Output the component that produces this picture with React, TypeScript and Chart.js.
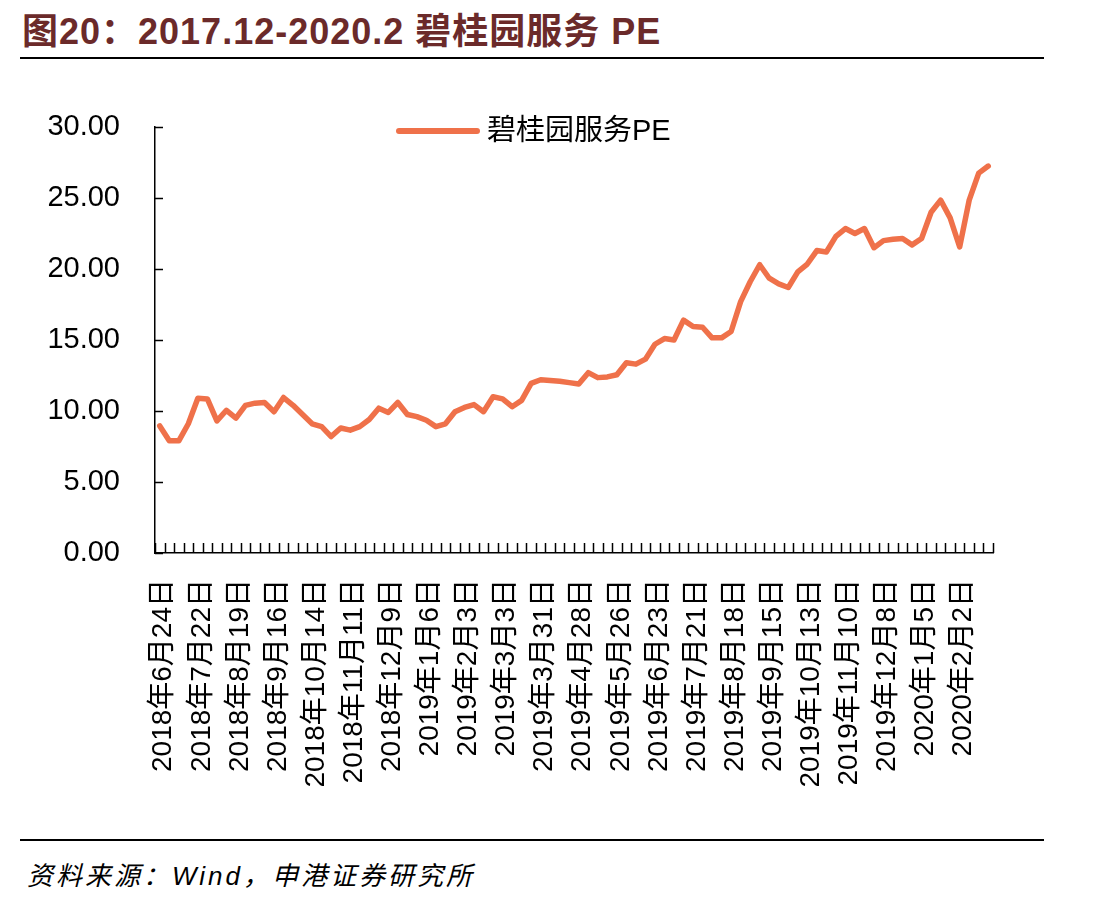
import React, { useEffect, useRef } from "react";
import { Chart, registerables } from "chart.js";

Chart.register(...registerables);

const TITLE = "图20：2017.12-2020.2 碧桂园服务 PE";
const SOURCE = "资料来源：Wind，申港证券研究所";
const SERIES_NAME = "碧桂园服务PE";

const dates: string[] = [
  "2018年6月24日", "2018年7月1日", "2018年7月8日", "2018年7月15日", "2018年7月22日", "2018年7月29日",
  "2018年8月5日", "2018年8月12日", "2018年8月19日", "2018年8月26日", "2018年9月2日", "2018年9月9日",
  "2018年9月16日", "2018年9月23日", "2018年9月30日", "2018年10月7日", "2018年10月14日", "2018年10月21日",
  "2018年10月28日", "2018年11月4日", "2018年11月11日", "2018年11月18日", "2018年11月25日", "2018年12月2日",
  "2018年12月9日", "2018年12月16日", "2018年12月23日", "2018年12月30日",
  "2019年1月6日", "2019年1月13日", "2019年1月20日", "2019年1月27日", "2019年2月3日", "2019年2月10日",
  "2019年2月17日", "2019年2月24日", "2019年3月3日", "2019年3月10日", "2019年3月17日", "2019年3月24日",
  "2019年3月31日", "2019年4月7日", "2019年4月14日", "2019年4月21日", "2019年4月28日", "2019年5月5日",
  "2019年5月12日", "2019年5月19日", "2019年5月26日", "2019年6月2日", "2019年6月9日", "2019年6月16日",
  "2019年6月23日", "2019年6月30日", "2019年7月7日", "2019年7月14日", "2019年7月21日", "2019年7月28日",
  "2019年8月4日", "2019年8月11日", "2019年8月18日", "2019年8月25日", "2019年9月1日", "2019年9月8日",
  "2019年9月15日", "2019年9月22日", "2019年9月29日", "2019年10月6日", "2019年10月13日", "2019年10月20日",
  "2019年10月27日", "2019年11月3日", "2019年11月10日", "2019年11月17日", "2019年11月24日", "2019年12月1日",
  "2019年12月8日", "2019年12月15日", "2019年12月22日", "2019年12月29日",
  "2020年1月5日", "2020年1月12日", "2020年1月19日", "2020年1月26日", "2020年2月2日", "2020年2月9日",
  "2020年2月16日", "2020年2月23日",
];

const peValues: number[] = [
  8.95, 7.9, 7.9, 9.1, 10.9, 10.85, 9.3, 10.05, 9.5, 10.4,
  10.55, 10.6, 9.95, 10.95, 10.4, 9.75, 9.1, 8.9, 8.2, 8.8,
  8.65, 8.9, 9.4, 10.2, 9.9, 10.6, 9.75, 9.6, 9.35, 8.9,
  9.1, 9.95, 10.25, 10.45, 9.95, 11.0, 10.85, 10.3, 10.75, 11.95,
  12.2, 12.15, 12.1, 12.0, 11.9, 12.7, 12.35, 12.4, 12.55, 13.4,
  13.3, 13.65, 14.7, 15.1, 15.0, 16.4, 15.95, 15.9, 15.15, 15.15,
  15.6, 17.7, 19.1, 20.3, 19.35, 18.95, 18.7, 19.8, 20.35, 21.3,
  21.2, 22.3, 22.85, 22.5, 22.85, 21.5, 22.0, 22.1, 22.15, 21.7,
  22.15, 24.0, 24.85, 23.6, 21.55, 24.85, 26.75, 27.25,
];

const yTickValues: number[] = [0, 5, 10, 15, 20, 25, 30];
const LABEL_EVERY = 4;

const LINE_COLOR = "#EF714A";
const FONT = '"Liberation Sans", Arial, "Noto Sans CJK SC", sans-serif';

const inwardTicks = {
  id: "inwardTicks",
  afterDraw(chart: any) {
    const { ctx, chartArea, scales } = chart;
    const xs = scales.x;
    const ys = scales.y;
    ctx.save();
    ctx.strokeStyle = "#000";
    ctx.lineWidth = 1.5;
    ctx.beginPath();
    yTickValues.forEach((v) => {
      const py = Math.round(ys.getPixelForValue(v)) + 0.5;
      ctx.moveTo(chartArea.left, py);
      ctx.lineTo(chartArea.left + 8, py);
    });
    const n = dates.length;
    const p0 = xs.getPixelForValue(0);
    const step = xs.getPixelForValue(1) - p0;
    for (let i = 0; i <= n; i++) {
      const px = Math.round(p0 - step / 2 + i * step) + 0.5;
      ctx.moveTo(px, chartArea.bottom);
      ctx.lineTo(px, chartArea.bottom - 10);
    }
    ctx.stroke();

    // legend
    const lx0 = chartArea.left + 244;
    const lx1 = chartArea.left + 322;
    const ly = chartArea.top + 4;
    ctx.strokeStyle = LINE_COLOR;
    ctx.lineWidth = 6;
    ctx.lineCap = "round";
    ctx.beginPath();
    ctx.moveTo(lx0, ly);
    ctx.lineTo(lx1, ly);
    ctx.stroke();
    ctx.fillStyle = "#000";
    ctx.font = `29px ${FONT}`;
    ctx.textAlign = "left";
    ctx.textBaseline = "middle";
    ctx.fillText(SERIES_NAME, lx1 + 10, ly + 1);
    ctx.restore();
  },
};

export default function App() {
  const canvasRef = useRef<HTMLCanvasElement | null>(null);

  useEffect(() => {
    if (!canvasRef.current) return;
    const chart = new Chart(canvasRef.current, {
      type: "line",
      data: {
        labels: dates,
        datasets: [
          {
            label: SERIES_NAME,
            data: peValues,
            borderColor: LINE_COLOR,
            backgroundColor: LINE_COLOR,
            borderWidth: 5.5,
            pointRadius: 0,
            tension: 0,
            borderJoinStyle: "round",
            borderCapStyle: "round",
          },
        ],
      },
      options: {
        responsive: false,
        animation: false,
        devicePixelRatio: 1,
        layout: { padding: { left: 0, top: 67, right: 100, bottom: 0 } },
        plugins: {
          legend: { display: false },
          tooltip: { enabled: false },
        },
        scales: {
          x: {
            type: "category",
            offset: true,
            grid: { display: false, offset: true },
            border: { display: true, color: "#000", width: 1.5 },
            ticks: {
              autoSkip: false,
              maxRotation: 90,
              minRotation: 90,
              padding: 18,
              labelOffset: 4,
              color: "#000",
              font: { family: FONT, size: 28 },
              callback: (_v: any, i: number) => (i % LABEL_EVERY === 0 ? dates[i] : ""),
            },
            afterFit: (scale: any) => {
              scale.height = 282;
            },
          },
          y: {
            min: 0,
            max: 30,
            grid: { display: false },
            border: { display: true, color: "#000", width: 1.5 },
            afterBuildTicks: (scale: any) => {
              scale.ticks = yTickValues.map((v) => ({ value: v }));
            },
            ticks: {
              padding: 27,
              color: "#000",
              font: { family: FONT, size: 29 },
              callback: (v: any) => Number(v).toFixed(2),
            },
            afterFit: (scale: any) => {
              scale.width = 155;
            },
          },
        },
      },
      plugins: [inwardTicks],
    });
    return () => chart.destroy();
  }, []);

  return (
    <div
      style={{
        position: "absolute",
        left: 0,
        top: 0,
        width: 1093,
        height: 904,
        background: "#fff",
        fontFamily: FONT,
      }}
    >
      <div
        style={{
          position: "absolute",
          left: 22,
          top: 2,
          fontSize: 36,
          letterSpacing: 1,
          fontWeight: "bold",
          color: "#6B2A2A",
          whiteSpace: "nowrap",
          fontFamily: '"Liberation Sans", Arial, "Noto Sans CJK SC", sans-serif',
        }}
      >
        {TITLE}
      </div>
      <div style={{ position: "absolute", left: 20, top: 57, width: 1024, height: 2, background: "#000" }} />
      <canvas
        ref={canvasRef}
        width={1093}
        height={775}
        style={{ position: "absolute", left: 0, top: 60, width: 1093, height: 775 }}
      />
      <div style={{ position: "absolute", left: 20, top: 839, width: 1024, height: 2, background: "#000" }} />
      <div
        style={{
          position: "absolute",
          left: 27,
          top: 855,
          fontSize: 26,
          fontStyle: "italic",
          letterSpacing: 3,
          color: "#000",
          whiteSpace: "nowrap",
          fontFamily: '"Liberation Sans", Arial, "Noto Sans CJK SC", sans-serif',
        }}
      >
        {SOURCE}
      </div>
    </div>
  );
}
